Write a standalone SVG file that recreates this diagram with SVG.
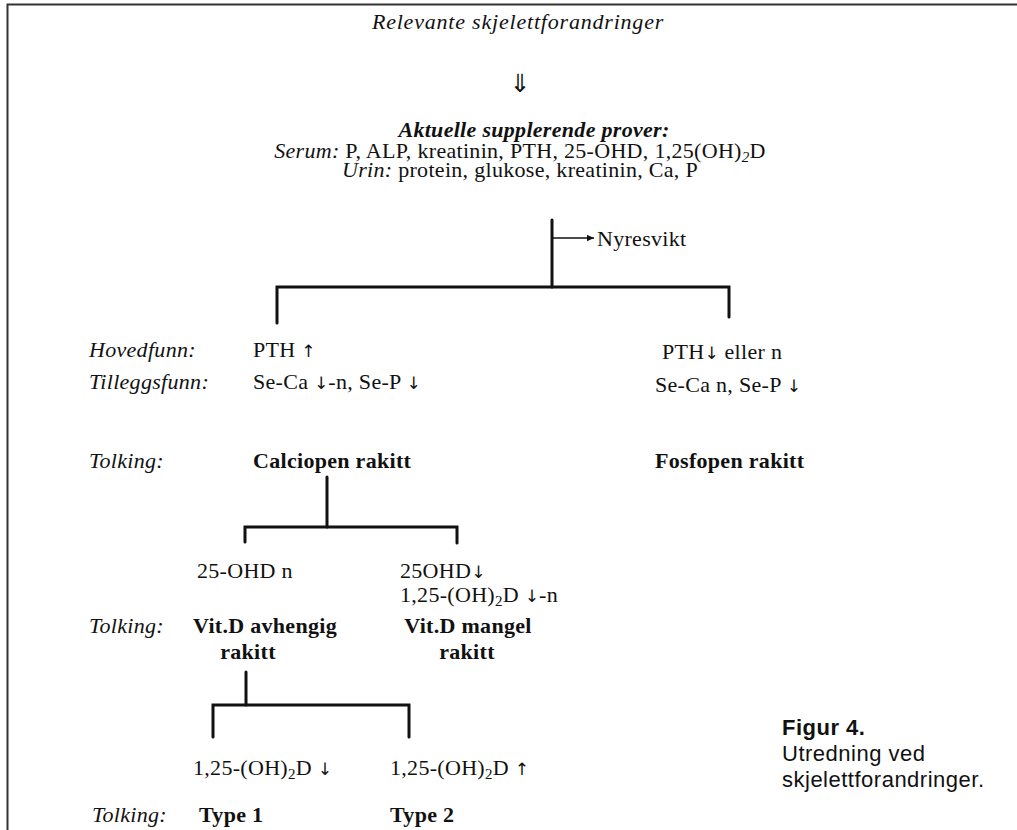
<svg xmlns="http://www.w3.org/2000/svg" width="1017" height="830" viewBox="0 0 1017 830">
<style>
text{font-family:"Liberation Serif","Times New Roman",serif;font-size:22px;letter-spacing:0.3px;fill:#111}
.i{font-style:italic}
.b{font-weight:bold}
.c{text-anchor:middle}
.sub{font-size:15px}
.ar{font-family:"DejaVu Sans",sans-serif;font-size:17px;font-style:normal;font-weight:normal;letter-spacing:0}
.sans{font-family:"Liberation Sans",Arial,sans-serif;font-size:22px;letter-spacing:0.5px}
.br{fill:none;stroke:#111;stroke-width:3;stroke-linecap:round;stroke-linejoin:miter}
.thin{fill:none;stroke:#111;stroke-width:1.3}
.frame{fill:none;stroke:#333;stroke-width:2}
</style>
<defs>
<marker id="ah" viewBox="0 0 10 10" refX="10" refY="5" markerWidth="8" markerHeight="7" markerUnits="userSpaceOnUse" orient="auto"><path d="M0,0.5 L10,5 L0,9.5z" fill="#111"/></marker>
</defs>
<rect width="1017" height="830" fill="#fff"/>
<path class="frame" d="M7.5,830 V4.5 H1017"/>
<g id="connectors">
<path class="br" d="M552,220 V287"/>
<path class="br" d="M277,323 V287 H729 V317"/>
<path class="thin" d="M553,238 H594" marker-end="url(#ah)"/>
<path class="br" d="M327,477 V527"/>
<path class="br" d="M245,542 V527 H457 V543"/>
<path class="br" d="M246,672 V705"/>
<path class="br" d="M213,737 V705 H409 V737"/>
</g>
<g id="n-start"><text class="i c" x="518" y="29" style="letter-spacing:0.8px">Relevante skjelettforandringer</text></g>
<g id="n-arrow"><text class="c ar" x="520" y="92" style="font-size:25px">⇓</text></g>
<g id="n-prover">
<text class="b i c" x="534" y="137">Aktuelle supplerende prover:</text>
<text class="c" x="520" y="158"><tspan class="i">Serum:</tspan> P, ALP, kreatinin, PTH, 25-OHD, 1,25(OH)<tspan class="sub i" dy="4">2</tspan><tspan dy="-4">D</tspan></text>
<text class="c" x="520" y="177"><tspan class="i">Urin:</tspan> protein, glukose, kreatinin, Ca, P</text>
</g>
<g id="n-nyresvikt"><text x="597" y="246">Nyresvikt</text></g>
<g id="labels">
<text class="i" x="89" y="357">Hovedfunn:</text>
<text class="i" x="89" y="389">Tilleggsfunn:</text>
<text class="i" x="89" y="468">Tolking:</text>
<text class="i" x="89" y="633">Tolking:</text>
<text class="i" x="92" y="822">Tolking:</text>
</g>
<g id="n-calciopen">
<text x="253" y="357">PTH <tspan class="ar">↑</tspan></text>
<text x="253" y="389">Se-Ca <tspan class="ar">↓</tspan>-n, Se-P <tspan class="ar">↓</tspan></text>
<text class="b" x="253" y="468">Calciopen rakitt</text>
</g>
<g id="n-fosfopen">
<text x="662" y="359">PTH<tspan class="ar">↓</tspan> eller n</text>
<text x="655" y="392">Se-Ca n, Se-P <tspan class="ar">↓</tspan></text>
<text class="b" x="655" y="468">Fosfopen rakitt</text>
</g>
<g id="n-avhengig">
<text x="197" y="578">25-OHD n</text>
<text class="b c" x="265" y="633">Vit.D avhengig</text>
<text class="b c" x="248" y="659">rakitt</text>
</g>
<g id="n-mangel">
<text x="400" y="578">25OHD<tspan class="ar">↓</tspan></text>
<text x="400" y="602">1,25-(OH)<tspan class="sub" dy="4">2</tspan><tspan dy="-4">D </tspan><tspan class="ar">↓</tspan>-n</text>
<text class="b c" x="468" y="633">Vit.D mangel</text>
<text class="b c" x="467" y="659">rakitt</text>
</g>
<g id="n-type1">
<text x="193" y="775">1,25-(OH)<tspan class="sub" dy="4">2</tspan><tspan dy="-4">D </tspan><tspan class="ar">↓</tspan></text>
<text class="b" x="199" y="822">Type 1</text>
</g>
<g id="n-type2">
<text x="390" y="775">1,25-(OH)<tspan class="sub" dy="4">2</tspan><tspan dy="-4">D </tspan><tspan class="ar">↑</tspan></text>
<text class="b" x="390" y="822">Type 2</text>
</g>
<g id="caption">
<text class="sans b" x="782" y="735">Figur 4.</text>
<text class="sans" x="782" y="761">Utredning ved</text>
<text class="sans" x="782" y="787">skjelettforandringer.</text>
</g>
</svg>
